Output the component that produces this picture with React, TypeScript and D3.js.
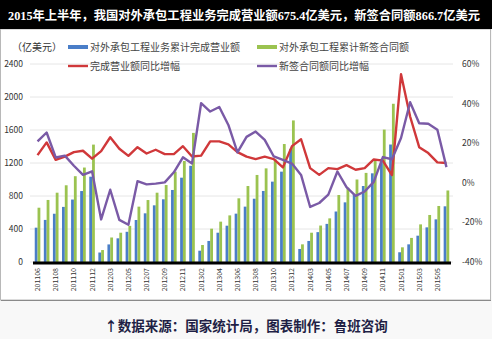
import React from "react";
import * as d3 from "d3";

const categories = [
  "201106","201107","201108","201109","201110","201111","201112",
  "201202","201203","201204","201205","201206","201207","201208","201209","201210","201211","201212",
  "201302","201303","201304","201305","201306","201307","201308","201309","201310","201311","201312",
  "201402","201403","201404","201405","201406","201407","201408","201409","201410","201411","201412",
  "201501","201502","201503","201504","201505","201506",
];

// 对外承包工程业务累计完成营业额 (亿美元)
const completed = [
  416, 510, 585, 668, 757, 860, 1034,
  115, 213, 287, 366, 509, 590, 687, 760, 873, 1022, 1166,
  137, 255, 355, 440, 586, 671, 767, 861, 974, 1095, 1371,
  158, 255, 362, 462, 612, 723, 820, 921, 1075, 1250, 1424,
  118, 214, 319, 420, 517, 675,
];

// 对外承包工程累计新签合同额 (亿美元)
const newSigned = [
  658, 752, 840, 930, 1040, 1145, 1423,
  145, 297, 355, 438, 671, 751, 840, 933, 1095, 1224, 1565,
  206, 404, 489, 565, 772, 921, 1055, 1135, 1244, 1430, 1716,
  214, 355, 442, 529, 812, 900, 1000, 1080, 1230, 1605, 1918,
  178, 292, 456, 570, 679, 867,
];

// 完成营业额同比增幅 (%)
const completedGrowth = [
  14, 20.4, 11.6, 13.2, 15.5, 16.2, 12.2,
  16, 23, 17.2, 13.6, 18, 14.8, 16.7, 14.5, 14.5, 18.5, 13.3,
  13.7, 20.9, 20.9, 19.4, 15.5, 13.2, 12, 13.2, 12, 7.8, 18.5,
  22, 7.4, 4, 7.4, 6.9, 8.9, 6.6, 7.4, 11.8, 11.2, 3.9,
  54.8, 33.5, 18, 15, 10.3, 10,
];

// 新签合同额同比增幅 (%)
const newSignedGrowth = [
  20.9, 25.4, 12.8, 13.7, 8.6, 4, 5.8,
  -18.5, -3.5, -18.7, -21.2, 0.8, -0.8, -0.4, 0.2, 5.3, 12.9, 9.8,
  40.2, 36, 38.3, 29.2, 15.4, 23.2, 25.9, 21.7, 13.3, 11.6, 9.7,
  4, -12.2, -10.2, -6, 5.7, -2.2, -6.6, -4.4, 0.5, 13, 11.9,
  22.6, 40.7, 30.1, 29.8, 26.8, 7.9,
];

const leftTicks = [0, 400, 800, 1200, 1600, 2000, 2400];
const rightTicks = [-40, -20, 0, 20, 40, 60];
const xTickLabels = [
  "201106","201108","201110","201112","201203","201205","201207","201209","201211",
  "201302","201304","201306","201308","201310","201312","201403","201405","201407",
  "201409","201411","201501","201503","201505",
];

const title = "2015年上半年，我国对外承包工程业务完成营业额675.4亿美元，新签合同额866.7亿美元";
const unitLabel = "（亿美元）";
const legendBar = ["对外承包工程业务累计完成营业额", "对外承包工程累计新签合同额"];
const legendLine = ["完成营业额同比增幅", "新签合同额同比增幅"];
const footer = "↑数据来源：国家统计局，图表制作：鲁班咨询";

const BLUE = "#4a7ec8";
const GREEN = "#9bc350";
const RED = "#d0383a";
const PURPLE = "#7a5aa6";
const FONT = "'Noto Sans CJK SC', 'Noto Sans', sans-serif";

export default function App() {
  const W = 492;
  const H = 339;
  const x = d3.scaleBand<string>().domain(categories).range([33, 451]).padding(0);
  const yL = d3.scaleLinear().domain([0, 2400]).range([262, 64]);
  const yR = d3.scaleLinear().domain([-40, 60]).range([262, 64]);
  const bw = 2.8;
  const cx = (c: string) => (x(c) as number) + x.bandwidth() / 2;
  const line = d3
    .line<number>()
    .x((_, i) => cx(categories[i]))
    .y((d) => yR(d));

  return (
    <svg
      width={W}
      height={H}
      style={{ position: "absolute", left: 0, top: 0, display: "block" }}
      fontFamily={FONT}
    >
      <rect x={0} y={0} width={W} height={H} fill="#f8f8f8" />
      <rect x={0.5} y={29} width={W - 2} height={271} fill="#ffffff" stroke="#b8b8b8" strokeWidth={1} />
      <line x1={1} x2={W - 1} y1={300.5} y2={300.5} stroke="#8a8a8a" strokeWidth={1.2} />
      <rect x={0} y={0} width={W} height={29} fill="#000" />
      <text
        x={8}
        y={20}
        fill="#fff"
        fontSize={12.5}
        fontWeight="bold"
        fontFamily="'Liberation Serif', 'Noto Sans CJK SC', serif"
        textLength={472}
        lengthAdjust="spacingAndGlyphs"
      >
        {title}
      </text>

      {/* gridlines */}
      {leftTicks.map((t) => (
        <line key={"g" + t} x1={30} x2={453} y1={yL(t)} y2={yL(t)} stroke="#e6e6e6" strokeWidth={1} />
      ))}

      {/* left tick labels */}
      {leftTicks.map((t) => (
        <text key={"l" + t} x={23} y={yL(t)} dy="0.35em" textAnchor="end" fontSize={8.5} fill="#333">
          {t}
        </text>
      ))}
      {/* right tick labels */}
      {rightTicks.map((t) => (
        <text key={"r" + t} x={462} y={yR(t)} dy="0.35em" textAnchor="start" fontSize={8.5} fill="#333">
          {t + "%"}
        </text>
      ))}

      {/* bars */}
      {categories.map((c, i) => (
        <g key={"b" + c}>
          <rect x={cx(c) - bw} y={yL(completed[i])} width={bw} height={yL(0) - yL(completed[i])} fill={BLUE} />
          <rect x={cx(c)} y={yL(newSigned[i])} width={bw} height={yL(0) - yL(newSigned[i])} fill={GREEN} />
        </g>
      ))}

      {/* lines */}
      <path d={line(completedGrowth) || ""} fill="none" stroke={RED} strokeWidth={2.4} strokeLinejoin="round" />
      <path d={line(newSignedGrowth) || ""} fill="none" stroke={PURPLE} strokeWidth={2.4} strokeLinejoin="round" />

      {/* x axis */}
      <line x1={33} x2={451} y1={263} y2={263} stroke="#000" strokeWidth={3} />
      {xTickLabels.map((lab) => (
        <text
          key={"x" + lab}
          transform={`translate(${cx(lab) + 2.5},268) rotate(-90)`}
          textAnchor="end"
          fontSize={7}
          fill="#333"
        >
          {lab}
        </text>
      ))}

      {/* legend */}
      <text x={12} y={47} dy="0.35em" fontSize={10} fill="#333">{unitLabel}</text>
      <rect x={68} y={45} width={20} height={4} fill={BLUE} />
      <text x={90} y={47} dy="0.35em" fontSize={10} fill="#444">{legendBar[0]}</text>
      <rect x={257} y={45} width={20} height={4} fill={GREEN} />
      <text x={279} y={47} dy="0.35em" fontSize={10} fill="#444">{legendBar[1]}</text>
      <line x1={68} x2={88} y1={66} y2={66} stroke={RED} strokeWidth={2.4} />
      <text x={90} y={66} dy="0.35em" fontSize={10} fill="#444">{legendLine[0]}</text>
      <line x1={257} x2={277} y1={66} y2={66} stroke={PURPLE} strokeWidth={2.4} />
      <text x={279} y={66} dy="0.35em" fontSize={10} fill="#444">{legendLine[1]}</text>

      {/* footer */}
      <text x={W / 2} y={326} dy="0.35em" textAnchor="middle" fontSize={13.5} fontWeight="bold" fill="#1f1f45">
        {footer}
      </text>
    </svg>
  );
}
